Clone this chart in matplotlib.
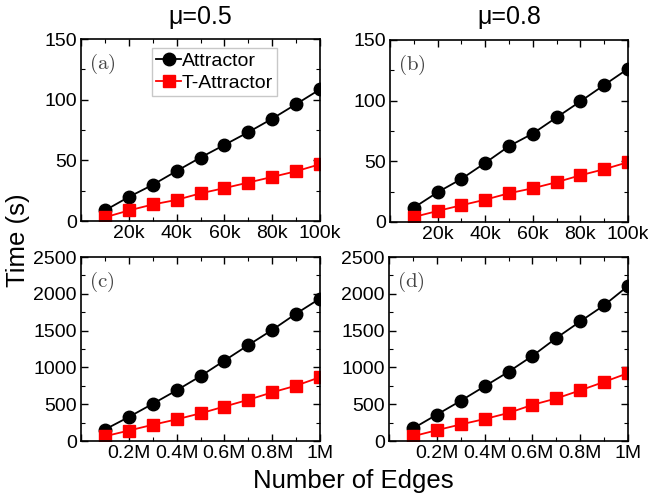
import matplotlib
matplotlib.use('Agg')
import matplotlib.pyplot as plt
from matplotlib.ticker import MultipleLocator, FuncFormatter

plt.rcParams['font.family'] = ['Liberation Sans', 'DejaVu Sans']
plt.rcParams['mathtext.fontset'] = 'cm'

# small graphs: 10k..100k edges
edges_small = [10000, 20000, 30000, 40000, 50000, 60000, 70000, 80000, 90000, 100000]
attr_a = [8.7, 19.8, 29.8, 41.2, 52.3, 62.7, 73.2, 84.3, 96.3, 108.5]
tattr_a = [3.0, 8.7, 13.6, 17.4, 22.8, 27.1, 31.7, 36.3, 41.0, 46.8]
attr_b = [11.8, 24.5, 35.5, 48.7, 62.5, 72.9, 86.2, 99.4, 112.9, 126.3]
tattr_b = [4.1, 9.1, 13.8, 18.4, 23.7, 27.8, 32.8, 38.5, 43.5, 49.3]

# large graphs: 0.1M..1M edges
edges_large = [100000, 200000, 300000, 400000, 500000, 600000, 700000, 800000, 900000, 1000000]
attr_c = [156, 326, 505, 688, 881, 1092, 1303, 1509, 1730, 1936]
tattr_c = [64, 142, 220, 294, 376, 468, 560, 661, 752, 867]
attr_d = [170, 358, 546, 743, 940, 1156, 1399, 1624, 1844, 2106]
tattr_d = [64, 147, 225, 298, 381, 491, 578, 688, 803, 922]

col_titles = ['\u03bc=0.5', '\u03bc=0.8']
panel_tags = ['(a)', '(b)', '(c)', '(d)']

def fmt_k(v, pos):
    return '' if v == 0 else '%dk' % round(v / 1000)

def fmt_m(v, pos):
    if v == 0: return ''
    if abs(v - 1e6) < 1: return '1M'
    return '%.1fM' % (v / 1e6)

fig = plt.figure(figsize=(6.48, 5.01), dpi=100)
W, H = 648.0, 501.0
boxes = [(81, 39, 320, 221), (390, 40, 628, 222), (81, 257, 320, 441), (389, 257, 628, 441)]
axes = []
for (x0, y0, x1, y1) in boxes:
    axes.append(fig.add_axes([x0 / W, 1 - y1 / H, (x1 - x0) / W, (y1 - y0) / H]))

sets = [(edges_small, attr_a, tattr_a), (edges_small, attr_b, tattr_b),
        (edges_large, attr_c, tattr_c), (edges_large, attr_d, tattr_d)]
for i, (ax, (xs, a, t)) in enumerate(zip(axes, sets)):
    ax.plot(xs, a, '-o', color='black', ms=9, lw=1.3, label='Attractor')
    ax.plot(xs, t, '-s', color='#ff0000', ms=8, lw=1.3, label='T-Attractor')
    if i < 2:
        ax.set_xlim(0, 100000); ax.set_ylim(0, 150)
        ax.xaxis.set_major_locator(MultipleLocator(20000)); ax.xaxis.set_minor_locator(MultipleLocator(10000))
        ax.yaxis.set_major_locator(MultipleLocator(50)); ax.yaxis.set_minor_locator(MultipleLocator(25))
        ax.xaxis.set_major_formatter(FuncFormatter(fmt_k))
    else:
        ax.set_xlim(0, 1000000); ax.set_ylim(0, 2500)
        ax.xaxis.set_major_locator(MultipleLocator(200000)); ax.xaxis.set_minor_locator(MultipleLocator(100000))
        ax.yaxis.set_major_locator(MultipleLocator(500)); ax.yaxis.set_minor_locator(MultipleLocator(250))
        ax.xaxis.set_major_formatter(FuncFormatter(fmt_m))
    ax.tick_params(which='both', direction='in', top=True, right=True, labelsize=14)
    ax.tick_params(which='major', length=5, width=1, pad=3)
    ax.tick_params(which='minor', length=3, width=0.8)
    for s in ax.spines.values(): s.set_linewidth(1.2)
    ax.text(0.035, 0.93, r'$\mathrm{%s}$' % panel_tags[i], transform=ax.transAxes,
            fontsize=15, ha='left', va='top', color='#444444')

axes[0].legend(loc='upper left', bbox_to_anchor=(0.297, 0.95), fontsize=14, frameon=True,
               fancybox=False, edgecolor='#bbbbbb', handlelength=1.3, handletextpad=0.05,
               borderpad=0.2, labelspacing=0.25, borderaxespad=0)

for j, ttl in enumerate(col_titles):
    ax = axes[j]
    fig.text((ax.get_position().x0 + ax.get_position().x1) / 2, 1 - 17 / H, ttl,
             ha='center', va='center', fontsize=18)

fig.text(18 / W, 1 - 240 / H, 'Time (s)', rotation=90, ha='center', va='center', fontsize=18.5)
fig.text(353 / W, 1 - 481 / H, 'Number of Edges', ha='center', va='center', fontsize=18.5)

fig.savefig('out.png', dpi=100)
